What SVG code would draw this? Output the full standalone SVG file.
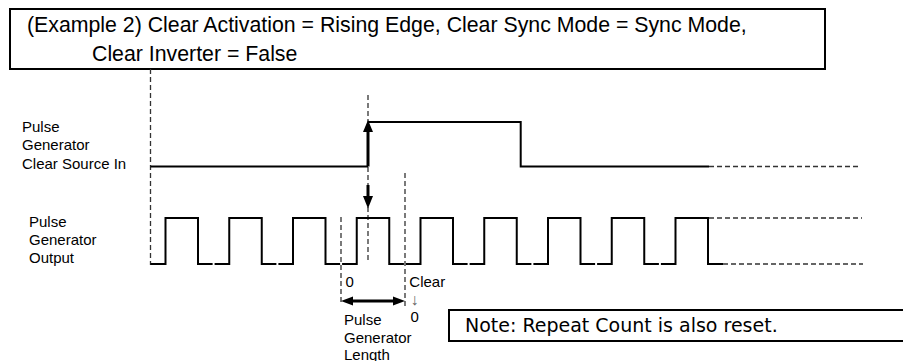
<svg xmlns="http://www.w3.org/2000/svg" width="903" height="361" viewBox="0 0 903 361">
<style>
.box{fill:#fff;stroke:#000;stroke-width:2}
.t{font-family:"Liberation Sans",Arial,sans-serif;fill:#000}
.title{font-size:21.3px}
.lbl{font-size:15px}
.note{font-family:"DejaVu Sans",Verdana,sans-serif;font-size:19px;fill:#000}
.wave{fill:none;stroke:#000;stroke-width:2;stroke-linecap:butt;stroke-linejoin:miter}
.dash{fill:none;stroke:#333;stroke-width:1.3;stroke-dasharray:5 3}
.thick{fill:none;stroke:#000;stroke-width:3}
.head{fill:#000;stroke:none}
</style>
<g id="title">
<rect class="box" x="10" y="9" width="815" height="60"/>
<text class="t title" x="27" y="32">(Example 2) Clear Activation = Rising Edge, Clear Sync Mode = Sync Mode,</text>
<text class="t title" x="92" y="61">Clear Inverter = False</text>
</g>
<g id="guides">
<path class="dash" d="M150.5,69 V265"/>
<path class="dash" d="M368,95 V262"/>
<path class="dash" d="M405,173 V306"/>
<path class="dash" d="M341,217 V303"/>
</g>
<g id="label-clear-source">
<text class="t lbl" x="22" y="131.5">Pulse</text>
<text class="t lbl" x="22" y="150">Generator</text>
<text class="t lbl" x="22" y="168.5">Clear Source In</text>
</g>
<g id="label-output">
<text class="t lbl" x="29" y="226.5">Pulse</text>
<text class="t lbl" x="29" y="245">Generator</text>
<text class="t lbl" x="29" y="263">Output</text>
</g>
<g id="wave-clear-source">
<path class="wave" d="M150.5,166.5 H368"/>
<path class="wave" d="M368,122 H520.7 V166.5 H709"/>
<path class="dash" d="M709,166.5 H860"/>
</g>
<g id="wave-output">
<path class="wave" d="M150.5,264 H165.5 V218 H198 V264 H212.6"/>
<path class="wave" d="M214.6,264 H229.25 V218 H261.75 V264 H276.4"/>
<path class="wave" d="M278.4,264 H293 V218 H325.5 V264 H340.1"/>
<path class="wave" d="M342.1,264 H356.75 V218 H389.25 V264 H403.9"/>
<path class="wave" d="M405.9,264 H420.5 V218 H453 V264 H467.6"/>
<path class="wave" d="M469.6,264 H484.25 V218 H516.75 V264 H531.4"/>
<path class="wave" d="M533.4,264 H548 V218 H580.5 V264 H595.1"/>
<path class="wave" d="M597.1,264 H611.75 V218 H644.25 V264 H658.9"/>
<path class="wave" d="M660.9,264 H675.5 V218 H708 V264 H723"/>
<path class="dash" d="M709,218 H862"/>
<path class="dash" d="M723,264 H863"/>
</g>
<g id="connectors">
<path class="thick" d="M368,166.5 V131"/>
<polygon class="head" points="368,120 373,132 363,132"/>
<path class="thick" d="M368,185 V197"/>
<polygon class="head" points="363,196 373,196 368,208.5"/>
<path class="thick" d="M352,301 H394"/>
<polygon class="head" points="341,301 353,296.5 353,305.5"/>
<polygon class="head" points="405,301 393,296.5 393,305.5"/>
</g>
<g id="annotations">
<text class="t lbl" x="345.5" y="286.5">0</text>
<text class="t lbl" x="409.3" y="286.5">Clear</text>
<text class="t" x="414.5" y="305" text-anchor="middle" style="fill:#666;font-size:16px">↓</text>
<text class="t lbl" x="410.5" y="321.5">0</text>
<text class="t lbl" x="344" y="325">Pulse</text>
<text class="t lbl" x="344" y="342.5">Generator</text>
<text class="t lbl" x="344" y="359.5">Length</text>
</g>
<g id="note">
<rect class="box" x="449" y="310" width="470" height="31"/>
<text class="note" x="465" y="331.5">Note: Repeat Count is also reset.</text>
</g>
</svg>
